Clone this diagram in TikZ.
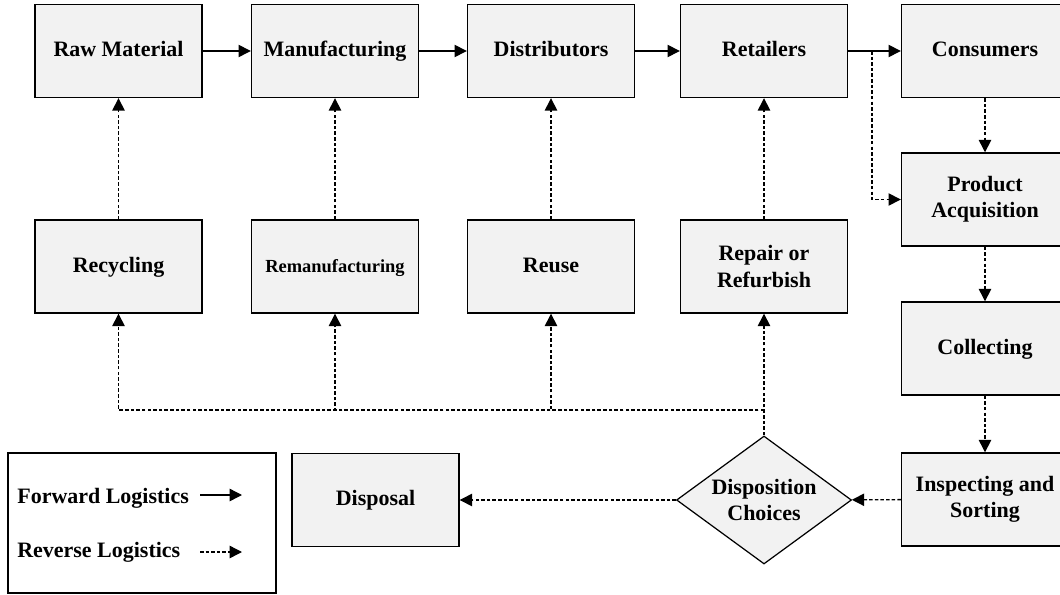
\documentclass[tikz,border=0pt]{standalone}
\usepackage{fontspec}
\setmainfont{Liberation Serif}
\usetikzlibrary{shapes.geometric, arrows.meta, positioning}

\begin{document}
\begin{tikzpicture}[
    box/.style={draw, line width=0.8pt, fill=boxgray, minimum width=3.34cm,
        minimum height=1.86cm, align=center, text height=1.45ex, text depth=0pt,
        font=\fontsize{12.5}{15}\selectfont\bfseries},
    twoline/.style={text height={}, text depth={}},
    choice/.style={diamond, draw, line width=0.7pt, fill=boxgray, aspect=1.37,
        inner sep=0pt, minimum width=3.5cm, minimum height=2.56cm, align=center,
        font=\fontsize{12.5}{15}\selectfont\bfseries},
    fwd/.style={line width=0.8pt, -{Triangle[length=7pt,width=7pt]}},
    rev/.style={line width=0.8pt, dash pattern=on 2pt off 1.2pt, -{Triangle[length=7pt,width=7pt]}},
    legtext/.style={anchor=west, inner sep=0pt, font=\fontsize{12.5}{15}\selectfont\bfseries}
]
    \definecolor{boxgray}{HTML}{F2F2F2}
    \useasboundingbox (0,0) rectangle (21.2,-11.9);

    % Forward chain
    \node[box] (raw) at (2.37,-1.02) {Raw Material};
    \node[box] (manu) at (6.70,-1.02) {Manufacturing};
    \node[box] (dist) at (11.02,-1.02) {Distributors};
    \node[box] (retail) at (15.28,-1.02) {Retailers};
    \node[box] (cons) at (19.70,-1.02) {Consumers};

    % Recovery options
    \node[box] (recyc) at (2.37,-5.33) {Recycling};
    \node[box, font=\fontsize{10.5}{13}\selectfont\bfseries] (reman) at (6.70,-5.33) {Remanufacturing};
    \node[box] (reuse) at (11.02,-5.33) {Reuse};
    \node[box, twoline] (repair) at (15.28,-5.33) {Repair or\\Refurbish};

    % Reverse chain
    \node[box, twoline] (acq) at (19.70,-3.99) {Product\\Acquisition};
    \node[box] (collect) at (19.70,-6.97) {Collecting};
    \node[box, twoline] (inspect) at (19.70,-9.99) {Inspecting and\\Sorting};
    \node[choice] (dispo) at (15.28,-10.0) {Disposition\\Choices};
    \node[box] (disposal) at (7.51,-10.0) {Disposal};

    % Legend
    \node[draw, line width=1.6pt, minimum width=5.36cm, minimum height=2.8cm] (legend) at (2.84,-10.46) {};
    \node[legtext] (fwdtext) at (0.34,-9.96) {Forward Logistics};
    \node[legtext] (revtext) at (0.34,-11.04) {Reverse Logistics};
    \coordinate (fwda) at (4.0,-9.9);
    \coordinate (fwdb) at (4.84,-9.9);
    \coordinate (reva) at (4.0,-11.04);
    \coordinate (revb) at (4.84,-11.04);
    \draw[fwd] (fwda) -- (fwdb);
    \draw[rev] (reva) -- (revb);

    % Forward flows
    \draw[fwd] (raw) -- (manu);
    \draw[fwd] (manu) -- (dist);
    \draw[fwd] (dist) -- (retail);
    \draw[fwd] (retail) -- (cons);

    % Reverse flows
    \coordinate (split) at (17.44,-1.02);
    \draw[rev] (split) |- (acq.west);
    \draw[rev] (cons) -- (acq);
    \draw[rev] (acq) -- (collect);
    \draw[rev] (collect) -- (inspect);
    \draw[rev] (inspect) -- (dispo);
    \draw[rev] (dispo) -- (disposal);
    \draw[rev] (dispo.north) -- (repair.south);
    \coordinate (bus) at (15.28,-8.2);
    \draw[rev] (bus) -| (recyc.south);
    \draw[rev] (bus) -| (reman.south);
    \draw[rev] (bus) -| (reuse.south);
    \draw[rev] (recyc) -- (raw);
    \draw[rev] (reman) -- (manu);
    \draw[rev] (reuse) -- (dist);
    \draw[rev] (repair) -- (retail);
\end{tikzpicture}
\end{document}
